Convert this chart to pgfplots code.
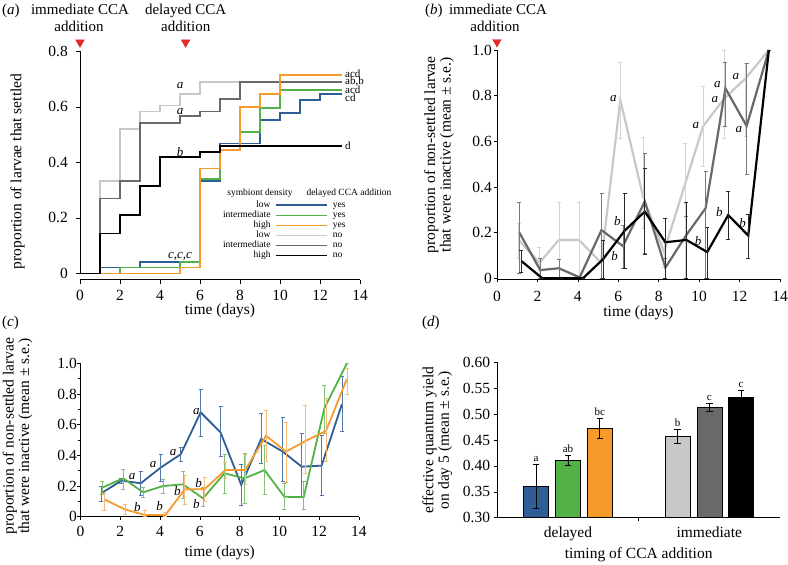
\documentclass[border=0pt]{standalone}
\usepackage{pgfplots}
\pgfplotsset{compat=1.18}
\usepackage{fontspec}
\setmainfont{Liberation Serif}
\definecolor{cblue}{RGB}{47,94,151}
\definecolor{cgreen}{RGB}{82,178,72}
\definecolor{corange}{RGB}{244,155,44}
\definecolor{clgray}{RGB}{200,200,200}
\definecolor{cdgray}{RGB}{105,105,105}
\definecolor{cred}{RGB}{226,44,44}
\definecolor{elg}{RGB}{212,212,212}
\definecolor{edg}{RGB}{120,120,120}
\definecolor{ebk}{RGB}{40,40,40}
\definecolor{ebl}{RGB}{80,120,170}
\definecolor{egr}{RGB}{130,195,115}
\definecolor{eor}{RGB}{246,185,120}
\newcommand{\fs}[1]{\fontsize{#1}{#1}\selectfont}
\pgfplotsset{
  panel/.style={scale only axis, anchor=south west,
    axis x line*=bottom, axis y line*=left, axis line style={-, line width=0.6pt},
    tick align=outside, major tick length=4pt, minor tick length=2.5pt,
    tick style={black, line width=0.6pt},
    tick label style={font=\fs{15.5}},
    label style={font=\fs{15.5}},
    /pgf/number format/assume math mode=true,
    clip=false},
  xl/.style={xlabel style={at={(axis description cs:0.5,0)}, anchor=base, yshift=-#1}},
  % ylabel is rotated by 90 degrees: yshift moves it left, xshift moves it up
  yl/.style 2 args={ylabel style={at={(axis description cs:0,0.5)}, anchor=center, align=center, yshift=#1, xshift=#2}},
  xtl/.style={xticklabel style={anchor=base, inner sep=0pt, yshift=-#1}},
  ytl/.style={yticklabel style={anchor=east, inner sep=0pt, xshift=-#1}},
  tri/.style={only marks, mark=triangle*, mark size=5pt, color=cred, mark options={rotate=180, draw=cred, fill=cred}},
  ebars/.style={error bars/y dir=both, error bars/y explicit, error bars/error bar style={line width=0.7pt, draw=#1}, error bars/error mark options={rotate=90, mark size=2pt, line width=0.7pt, draw=#1}},
  dbar/.style={ybar, bar width=0.177, bar shift=0pt, draw=black, line width=0.6pt, fill=#1,
    error bars/y dir=both, error bars/y explicit, error bars/error bar style={black, line width=0.8pt}, error bars/error mark options={rotate=90, black, mark size=3.2pt, line width=0.8pt}},
}
\tikzset{
  lab/.style={font=\fs{13}\itshape, inner sep=0pt},
  rlab/.style={font=\fs{11}, inner sep=0pt, anchor=west},
  dlab/.style={font=\fs{11}, inner sep=0pt, anchor=south},
  legt/.style={font=\fs{9.5}, inner sep=0pt},
}
\begin{document}
\begin{tikzpicture}[x=1pt,y=1pt]
\useasboundingbox (0,0) rectangle (788,-565);

% ---------------- (a)
\begin{axis}[panel, at={(80pt,-279.5pt)}, width=280pt, height=228.2pt,
  xmin=0, xmax=14, ymin=-0.0216, ymax=0.8,
  xtick={0,2,...,14}, ytick={0,0.2,0.4,0.6,0.8}, yticklabels={0,0.2,0.4,0.6,0.8},
  y axis line style={shorten <=6pt},
  xtl=17.4pt, ytl=8pt, xl=35pt, yl={62.5pt}{-6pt},
  xlabel={time (days)}, ylabel={proportion of larvae that settled}]
\addplot[const plot, clgray, line width=1.8pt] coordinates {(0,0)(1,0.334)(2,0.52)(3,0.583)(4,0.605)(5,0.646)(6,0.689)(13.1,0.689)};
\addplot[const plot, cdgray, line width=1.8pt] coordinates {(0,0)(1,0.27)(2,0.334)(3,0.542)(5,0.566)(6,0.583)(7,0.628)(8,0.689)(13.1,0.689)};
\addplot[const plot, cblue, line width=1.8pt] coordinates {(0,0)(1,0.0216)(3,0.042)(6,0.334)(7,0.468)(9,0.554)(10,0.578)(11,0.624)(12,0.646)(13.1,0.646)};
\addplot[const plot, cgreen, line width=1.8pt] coordinates {(0,0)(2,0.0216)(5,0.042)(6,0.34)(7,0.444)(8,0.51)(9,0.596)(10,0.662)(13.1,0.662)};
\addplot[const plot, corange, line width=1.8pt] coordinates {(0,0)(5,0.0216)(6,0.378)(7,0.446)(8,0.6)(9,0.646)(10,0.714)(13.1,0.714)};
\addplot[const plot, black, line width=1.8pt] coordinates {(0,0)(1,0.144)(2,0.21)(3,0.314)(4,0.42)(6,0.438)(7,0.458)(13.1,0.458)};
\addplot[tri] coordinates {(0,0.832)(5.28,0.832)};
\node[lab] at (axis cs:5,0.678) {a};
\node[lab] at (axis cs:5,0.582) {a};
\node[lab] at (axis cs:5,0.438) {b};
\node[lab] at (axis cs:5,0.062) {c,c,c};
\node[rlab] at (axis cs:13.25,0.718) {acd};
\node[rlab] at (axis cs:13.25,0.692) {ab,b};
\node[rlab] at (axis cs:13.25,0.662) {acd};
\node[rlab] at (axis cs:13.25,0.632) {cd};
\node[rlab] at (axis cs:13.25,0.460) {d};
\end{axis}

% ---------------- (b)
\begin{axis}[panel, at={(497pt,-279.3pt)}, width=283pt, height=229.3pt,
  xmin=0, xmax=14, ymin=-0.0044, ymax=1, major tick length=3pt,
  xtick={0,2,...,14}, ytick={0,0.2,0.4,0.6,0.8,1}, yticklabels={0,0.2,0.4,0.6,0.8,1.0},
  xtl=19.4pt, ytl=2pt, xl=37pt, yl={58pt}{10pt},
  xlabel={time (days)}, ylabel={proportion of non-settled larvae\\that were inactive (mean ± s.e.)}]
\addplot[clgray, line width=2.2pt, ebars=elg]
 table[x=x,y=y,y error plus=ep,y error minus=em] {
x y ep em
1.07 0.168 0.073 0.080
2.10 0.068 0.068 0.068
3.06 0.168 0.165 0.168
4.05 0.168 0.165 0.168
5.15 0.068 0.070 0.068
6.10 0.781 0.163 0.168
7.23 0.357 0.259 0.138
8.26 0.117 0.040 0.070
9.30 0.412 0.180 0.412
10.20 0.667 0.172 0.175
11.25 0.788 0.212 0.175
12.30 0.876 0.066 0.256
13.45 1.000 0 0
};
\addplot[cdgray, line width=2.2pt, ebars=edg]
 table[x=x,y=y,y error plus=ep,y error minus=em] {
x y ep em
1.10 0.201 0.132 0.180
2.14 0.036 0.050 0.036
3.06 0.044 0.041 0.044
4.09 0.004 0 0
5.17 0.211 0.161 0.211
6.23 0.141 0.092 0.096
7.31 0.336 0.211 0.226
8.33 0.047 0.040 0.047
9.37 0.190 0.080 0.190
10.32 0.307 0.163 0.307
11.30 0.832 0.112 0.165
12.35 0.667 0.275 0.210
13.45 1.000 0 0
};
\addplot[black, line width=2.2pt, ebars=ebk]
 table[x=x,y=y,y error plus=ep,y error minus=em] {
x y ep em
1.20 0.076 0.045 0.051
2.24 0.000 0 0
3.20 0.000 0 0
4.25 0.000 0 0
5.24 0.083 0.085 0.083
6.32 0.209 0.163 0.164
7.31 0.292 0.190 0.186
8.33 0.158 0.105 0.158
9.37 0.168 0.165 0.168
10.40 0.115 0.108 0.115
11.44 0.277 0.103 0.106
12.43 0.187 0.095 0.099
13.45 1.000 0 0
};
\addplot[tri] coordinates {(0,1.035)};
\node[lab] at (axis cs:5.76,0.788) {a};
\node[lab] at (axis cs:5.96,0.25) {b};
\node[lab] at (axis cs:5.82,0.098) {b};
\node[lab] at (axis cs:9.84,0.67) {a};
\node[lab] at (axis cs:10.9,0.85) {a};
\node[lab] at (axis cs:10.78,0.784) {a};
\node[lab] at (axis cs:11.82,0.886) {a};
\node[lab] at (axis cs:11.97,0.65) {a};
\node[lab] at (axis cs:9.95,0.165) {b};
\node[lab] at (axis cs:11.0,0.29) {b};
\node[lab] at (axis cs:12.15,0.243) {b};
\end{axis}

% ---------------- (c)
\begin{axis}[panel, at={(80.5pt,-516.7pt)}, width=278.5pt, height=153.4pt,
  xmin=0, xmax=14, ymin=0, ymax=1, major tick length=3.5pt,
  xtick={0,2,...,14}, ytick={0,0.2,0.4,0.6,0.8,1}, yticklabels={0,0.2,0.4,0.6,0.8,1.0},
  minor ytick={0.1,0.3,0.5,0.7,0.9},
  xtl=16.1pt, ytl=0pt, xl=40pt, yl={63pt}{4pt},
  xlabel={time (days)}, ylabel={proportion of non-settled larvae\\that were inactive (mean ± s.e.)}]
\addplot[cblue, line width=1.8pt, ebars=ebl]
 table[x=x,y=y,y error plus=ep,y error minus=em] {
x y ep em
1.03 0.152 0.044 0.054
2.06 0.235 0.015 0.015
3.03 0.218 0.075 0.077
4.03 0.320 0.087 0.087
5.04 0.407 0.045 0.044
6.04 0.680 0.153 0.154
7.04 0.550 0.167 0.154
8.08 0.207 0.136 0.131
9.08 0.507 0.167 0.159
10.17 0.424 0.224 0.191
11.12 0.326 0.218 0.196
12.12 0.333 0.197 0.193
13.14 0.733 0.180 0.174
};
\addplot[cgreen, line width=1.8pt, ebars=egr]
 table[x=x,y=y,y error plus=ep,y error minus=em] {
x y ep em
1.10 0.190 0.043 0.044
2.15 0.250 0.059 0.070
3.15 0.159 0.030 0.030
4.15 0.200 0.043 0.050
5.15 0.211 0.087 0.091
6.16 0.120 0.070 0.050
7.24 0.283 0.124 0.131
8.25 0.250 0.160 0.160
9.25 0.304 0.163 0.158
10.25 0.130 0.088 0.080
11.22 0.127 0.102 0.077
12.26 0.707 0.152 0.163
13.39 1.000 0 0
};
\addplot[corange, line width=1.8pt, ebars=eor]
 table[x=x,y=y,y error plus=ep,y error minus=em] {
x y ep em
1.19 0.113 0.040 0.069
2.23 0.048 0.032 0.030
3.23 0.011 0.030 0.011
4.27 0.011 0.020 0.011
5.24 0.178 0.094 0.098
6.24 0.180 0.076 0.080
7.28 0.304 0.051 0.054
8.28 0.304 0.103 0.094
9.33 0.528 0.168 0.165
10.33 0.424 0.191 0.200
11.30 0.493 0.235 0.210
12.34 0.559 0.213 0.200
13.39 0.898 0.069 0.100
};
\node[lab] at (axis cs:5.82,0.685) {a};
\node[lab] at (axis cs:4.65,0.42) {a};
\node[lab] at (axis cs:3.65,0.342) {a};
\node[lab] at (axis cs:2.6,0.26) {a};
\node[lab] at (axis cs:2.86,0.06) {b};
\node[lab] at (axis cs:3.98,0.07) {b};
\node[lab] at (axis cs:4.87,0.167) {b};
\node[lab] at (axis cs:5.94,0.218) {b};
\node[lab] at (axis cs:5.82,0.081) {b};
\end{axis}

% ---------------- (d)
\begin{axis}[panel, at={(497.3pt,-517.7pt)}, width=282.7pt, height=155.4pt,
  clip mode=individual, major tick length=3pt,
  xmin=0, xmax=2, ymin=0.3, ymax=0.6,
  xtick={1}, xticklabels={},
  extra x ticks={0.5,1.5}, extra x tick labels={delayed,immediate},
  extra x tick style={major tick length=0pt, tick style={draw=none}, xticklabel style={anchor=base, inner sep=0pt, yshift=-19.6pt}},
  ytick={0.3,0.35,0.4,0.45,0.5,0.55,0.6}, yticklabels={0.30,0.35,0.40,0.45,0.50,0.55,0.60},
  ytl=4pt, xl=40.6pt, yl={60pt}{0pt},
  xlabel={timing of CCA addition}, ylabel={effective quantum yield\\on day 5 (mean ± s.e.)}]
\addplot[dbar=cblue] coordinates {(0.275,0.360) +- (0,0.043)};
\addplot[dbar=cgreen] coordinates {(0.5,0.411) +- (0,0.010)};
\addplot[dbar=corange] coordinates {(0.725,0.472) +- (0,0.019)};
\addplot[dbar=clgray] coordinates {(1.275,0.457) +- (0,0.013)};
\addplot[dbar=cdgray] coordinates {(1.5,0.513) +- (0,0.008)};
\addplot[dbar=black] coordinates {(1.725,0.533) +- (0,0.012)};
\node[dlab] at (axis cs:0.275,0.408) {a};
\node[dlab] at (axis cs:0.5,0.426) {ab};
\node[dlab] at (axis cs:0.725,0.497) {bc};
\node[dlab] at (axis cs:1.275,0.476) {b};
\node[dlab] at (axis cs:1.5,0.526) {c};
\node[dlab] at (axis cs:1.725,0.550) {c};
\end{axis}

% ---------------- headers and panel labels
\node[anchor=base west, font=\fs{15}, inner sep=0pt] at (2,-14) {(\textit{a})};
\node[anchor=base, font=\fs{15}, inner sep=0pt] at (80,-14) {immediate CCA};
\node[anchor=base, font=\fs{15}, inner sep=0pt] at (79,-31.7) {addition};
\node[anchor=base, font=\fs{15}, inner sep=0pt] at (185.7,-14) {delayed CCA};
\node[anchor=base, font=\fs{15}, inner sep=0pt] at (185.7,-31.7) {addition};
\node[anchor=base west, font=\fs{15}, inner sep=0pt] at (425,-14) {(\textit{b})};
\node[anchor=base, font=\fs{15}, inner sep=0pt] at (498,-14) {immediate CCA};
\node[anchor=base, font=\fs{15}, inner sep=0pt] at (495,-31.7) {addition};
\node[anchor=base west, font=\fs{15}, inner sep=0pt] at (2,-326) {(\textit{c})};
\node[anchor=base west, font=\fs{15}, inner sep=0pt] at (422,-326) {(\textit{d})};

% ---------------- legend of (a)
\node[legt] at (260,-193) {symbiont density};
\node[legt] at (349,-193) {delayed CCA addition};
\node[legt, anchor=mid east] at (270.7,-205) {low};
\node[legt, anchor=mid east] at (270.7,-215.1) {intermediate};
\node[legt, anchor=mid east] at (270.7,-225.2) {high};
\node[legt, anchor=mid east] at (270.7,-235.3) {low};
\node[legt, anchor=mid east] at (270.7,-245.4) {intermediate};
\node[legt, anchor=mid east] at (270.7,-255.5) {high};
\draw[cblue, line width=1.2pt] (275.7,-205) -- (326.7,-205);
\draw[cgreen, line width=1.2pt] (275.7,-215.1) -- (326.7,-215.1);
\draw[corange, line width=1.2pt] (275.7,-225.2) -- (326.7,-225.2);
\draw[clgray, line width=1.2pt] (275.7,-235.3) -- (326.7,-235.3);
\draw[cdgray, line width=1.2pt] (275.7,-245.4) -- (326.7,-245.4);
\draw[black, line width=1.2pt] (275.7,-255.5) -- (326.7,-255.5);
\node[legt, anchor=mid west] at (332.7,-205) {yes};
\node[legt, anchor=mid west] at (332.7,-215.1) {yes};
\node[legt, anchor=mid west] at (332.7,-225.2) {yes};
\node[legt, anchor=mid west] at (332.7,-235.3) {no};
\node[legt, anchor=mid west] at (332.7,-245.4) {no};
\node[legt, anchor=mid west] at (332.7,-255.5) {no};
\end{tikzpicture}
\end{document}
